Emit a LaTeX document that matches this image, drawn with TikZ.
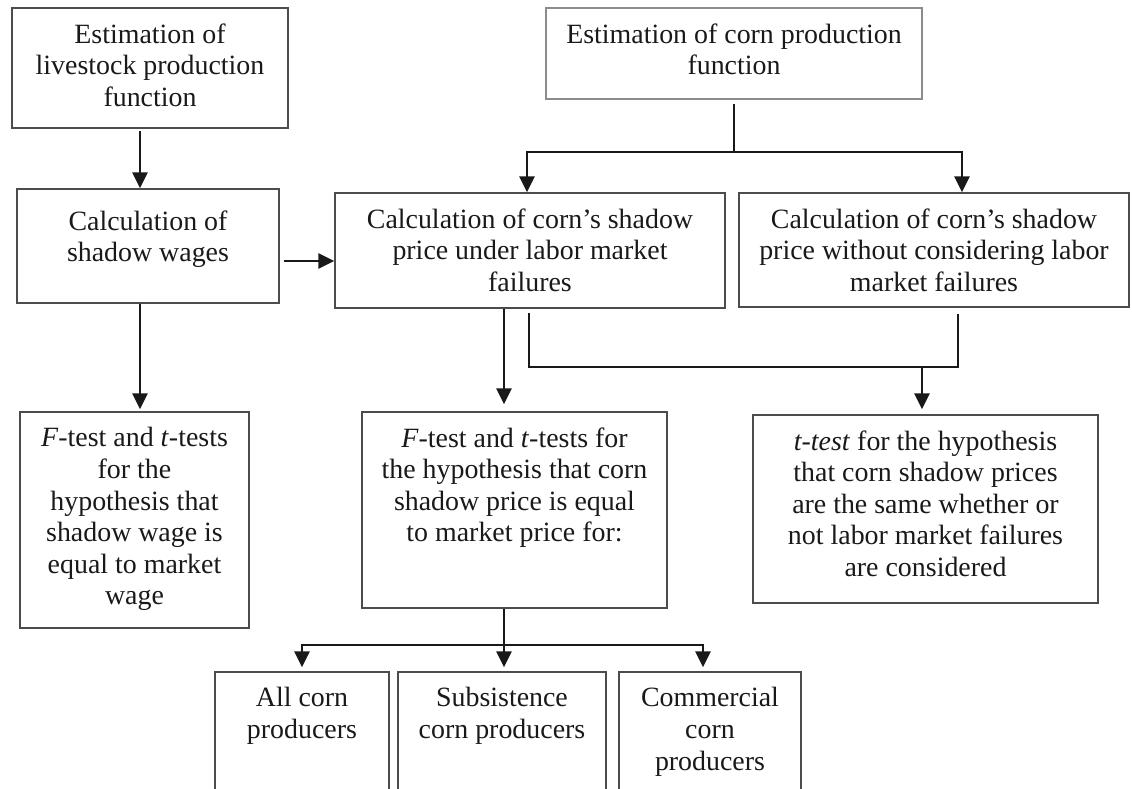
\documentclass[tikz,border=0pt]{standalone}
\usepackage{fontspec}
\setmainfont{Liberation Serif}
\usepackage{tikz}
\usetikzlibrary{calc}
\usetikzlibrary{arrows.meta}
\usetikzlibrary{positioning}
\tikzset{>={Triangle[length=16pt,width=15pt]}}
\tikzstyle{box} = [rectangle, draw=black!70, line width=1.4pt, inner sep=0pt]
\tikzstyle{txt} = [align=center, inner sep=0pt, text=black!90, font=\fontsize{27.9}{31.6}\selectfont]
\tikzstyle{lin} = [-, line width=2.8pt, black!90]
\tikzstyle{arr} = [->, line width=2.8pt, black!90]

\begin{document}
\begin{tikzpicture}[x=1pt, y=-1pt]
\useasboundingbox (0,0) rectangle (1132,788);
% boxes
\node [box, minimum width=276pt, minimum height=120pt] (A) at (150, 68) {};
\node [box, draw=black!45, minimum width=376pt, minimum height=91pt] (E) at (734, 53.5) {};
\node [box, minimum width=262pt, minimum height=114pt] (B) at (148, 246) {};
\node [box, minimum width=390pt, minimum height=115pt] (C) at (530, 250.5) {};
\node [box, minimum width=390pt, minimum height=114pt] (D) at (934, 250) {};
\node [box, minimum width=229pt, minimum height=216pt] (F) at (134.5, 520) {};
\node [box, minimum width=305pt, minimum height=196pt] (G) at (514.5, 510) {};
\node [box, minimum width=345pt, minimum height=188pt] (H) at (925.5, 509) {};
\node [box, minimum width=174pt, minimum height=140pt] (P1) at (302, 742) {};
\node [box, minimum width=208pt, minimum height=140pt] (P2) at (502, 742) {};
\node [box, minimum width=182pt, minimum height=140pt] (P3) at (710, 742) {};
% texts
\node [txt, below=16pt of A.north] (At) {Estimation of\\livestock production\\function};
\node [txt, below=16pt of E.north] (Et) {Estimation of corn production\\function};
\node [txt, below=22pt of B.north] (Bt) {Calculation of\\shadow wages};
\node [txt, below=16pt of C.north] (Ct) {Calculation of corn's shadow\\price under labor market\\failures};
\node [txt, below=16pt of D.north] (Dt) {Calculation of corn's shadow\\price without considering labor\\market failures};
\node [txt, below=16pt of F.north] (Ft) {\textit{F}-test and \textit{t}-tests\\for the\\hypothesis that\\shadow wage is\\equal to market\\wage};
\node [txt, below=16pt of G.north] (Gt) {\textit{F}-test and \textit{t}-tests for\\the hypothesis that corn\\shadow price is equal\\to market price for:};
\node [txt, below=16pt of H.north] (Ht) {\textit{t-test} for the hypothesis\\that corn shadow prices\\are the same whether or\\not labor market failures\\are considered};
\node [txt, below=16pt of P1.north] (P1t) {All corn\\producers};
\node [txt, below=16pt of P2.north] (P2t) {Subsistence\\corn producers};
\node [txt, below=16pt of P3.north] (P3t) {Commercial\\corn\\producers};
% split points
\coordinate (eSplit) at (734, 152);
\coordinate (hJoin) at (922, 367);
\coordinate (gSplit) at (504, 645);
% connectors
\draw [arr, shorten <=2pt] ([xshift=-10pt]A.south) -- ([xshift=-10pt]A.south |- B.north);
\draw [lin, shorten <=4pt] (E.south) -- (eSplit);
\draw [arr] (eSplit) -| ([xshift=-3pt]C.north);
\draw [arr] (eSplit) -| ([xshift=28pt]D.north);
\draw [arr, shorten <=4pt] ([yshift=-15pt]B.east) -- ([yshift=-15pt]B.east -| C.west);
\draw [arr, shorten >=2pt] ([xshift=-8pt]B.south) -- ([xshift=-8pt]B.south |- F.north);
\draw [arr, shorten >=7pt] ([xshift=-26pt]C.south) -- ([xshift=-26pt]C.south |- G.north);
\draw [lin, shorten <=4pt] ([xshift=-1pt]C.south) |- (hJoin);
\draw [lin, shorten <=6pt] ([xshift=24pt]D.south) -- ([xshift=24pt]D.south |- hJoin) -- (hJoin);
\draw [arr, shorten >=5pt] (hJoin) -- (hJoin |- H.north);
\draw [lin] (gSplit |- G.south) -- (gSplit);
\draw [arr, shorten >=4pt] (gSplit) -| (P1.north);
\draw [arr, shorten >=4pt] (gSplit) -- (gSplit |- P2.north);
\draw [arr, shorten >=4pt] (gSplit) -| ([xshift=-7pt]P3.north);
\end{tikzpicture}
\end{document}
